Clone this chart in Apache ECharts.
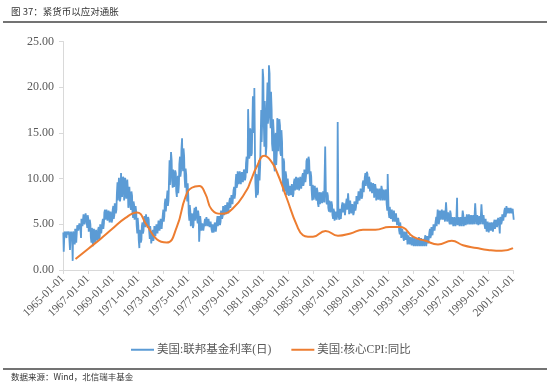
<!DOCTYPE html>
<html><head><meta charset="utf-8">
<script src="https://cdn.jsdelivr.net/npm/echarts@6/dist/echarts.min.js"></script>
<style>html,body{margin:0;padding:0;background:#fff}#c{width:550px;height:385px}</style>
</head><body><div id="c"></div>
<script>
// ---- data ----
const startYear = 1965;
const xTickLabels = ['1965-01-01','1967-01-01','1969-01-01','1971-01-01','1973-01-01','1975-01-01','1977-01-01','1979-01-01','1981-01-01','1983-01-01','1985-01-01','1987-01-01','1989-01-01','1991-01-01','1993-01-01','1995-01-01','1997-01-01','1999-01-01','2001-01-01'];
const seriesNames = ['美国:联邦基金利率(日)', '美国:核心CPI:同比'];

// Fed funds (daily) — monthly low / high of the daily band, 1965-01 .. 2001-01
const fedLow = [
 2.0,3.9,3.8,3.5,3.9,3.8,2.2,3.9,3.6,1.0,3.8,2.8, // 1965
 3.0,4.2,4.3,4.3,4.5,3.5,4.8,5.0,5.0,4.9,5.2,4.6, // 1966
 4.2,4.3,3.6,3.0,2.6,3.2,3.0,2.8,3.2,3.0,3.3,3.7, // 1967
 4.0,4.2,4.5,5.1,5.5,5.5,5.4,5.5,5.2,5.3,5.2,5.5, // 1968
 5.6,6.0,6.2,6.6,7.6,7.8,7.5,8.0,8.0,7.8,7.6,7.8, // 1969
 7.8,7.9,6.8,7.0,6.9,6.6,6.3,5.7,5.5,5.4,4.9,4.0, // 1970
 3.3,2.4,3.0,3.3,4.0,4.3,4.7,5.0,5.0,4.6,4.3,3.4, // 1971
 2.9,2.8,3.2,3.6,3.7,3.9,4.0,4.2,4.3,4.4,4.5,4.7, // 1972
 5.3,5.9,6.4,6.4,7.0,7.6,9.3,9.5,9.8,9.0,9.1,9.0, // 1973
 8.6,8.0,8.4,9.4,10.2,10.8,11.6,10.8,10.2,9.0,8.4,7.5, // 1974
 6.2,5.4,4.8,4.8,4.6,4.9,5.4,5.5,5.6,5.1,3.1,4.5, // 1975
 4.3,4.2,4.3,4.3,4.8,4.9,4.8,4.8,4.7,4.5,4.4,4.1, // 1976
 4.1,4.2,4.2,4.2,4.8,4.9,4.9,5.3,5.6,5.9,6.0,6.0, // 1977
 6.1,6.2,6.2,6.3,6.8,7.0,7.2,7.4,7.8,8.3,9.0,9.3, // 1978
 9.4,9.4,9.4,9.4,9.6,9.6,9.8,10.2,10.6,12.0,12.2,12.5, // 1979
 12.5,12.8,15.0,15.5,9.5,7.9,8.2,8.5,9.8,11.5,14.0,16.5, // 1980
 16.5,13.5,12.5,13.5,16.0,17.0,17.0,15.5,13.8,13.0,11.5,10.8, // 1981
 11.5,13.0,13.0,13.2,12.8,12.5,11.0,8.6,9.0,8.6,8.2,8.0, // 1982
 8.1,7.9,8.2,8.2,8.0,8.4,8.7,8.9,8.8,8.8,8.7,8.8, // 1983
 8.9,8.9,9.2,9.6,9.6,10.3,10.5,10.9,10.6,9.2,8.7,7.6, // 1984
 7.7,7.8,7.9,7.6,7.3,6.9,7.2,7.3,7.3,7.4,7.4,7.6, // 1985
 7.5,7.2,6.8,6.4,6.3,6.3,6.0,5.6,5.4,5.3,5.5,6.2, // 1986
 5.8,5.5,5.6,5.8,6.3,6.2,6.0,6.2,6.6,6.6,6.1,6.2, // 1987
 6.2,6.0,6.0,6.3,6.5,6.9,7.2,7.4,7.6,7.7,7.8,8.1, // 1988
 8.5,8.7,9.2,9.2,9.2,8.9,8.6,8.4,8.4,8.2,7.9,7.8, // 1989
 7.6,7.7,7.7,7.7,7.6,7.7,7.6,7.6,7.6,7.5,7.2,6.5, // 1990
 6.2,5.7,5.6,5.4,5.3,5.4,5.3,5.2,4.9,4.7,4.3,3.9, // 1991
 3.5,3.6,3.5,3.2,3.3,3.3,2.8,2.9,2.8,2.7,2.7,2.5, // 1992
 2.6,2.6,2.6,2.5,2.6,2.6,2.6,2.6,2.6,2.5,2.6,2.5, // 1993
 2.6,2.8,2.9,3.1,3.5,3.8,3.8,4.0,4.3,4.3,4.8,4.9, // 1994
 5.0,5.4,5.5,5.5,5.5,5.5,5.3,5.2,5.3,5.2,5.3,5.0, // 1995
 5.0,4.8,4.8,4.7,4.8,4.8,4.9,4.7,4.8,4.7,4.8,4.7, // 1996
 4.8,4.7,4.9,5.0,5.0,5.1,5.0,5.0,5.0,5.0,5.0,4.9, // 1997
 5.0,5.0,4.9,4.9,5.0,5.0,5.0,5.0,4.9,4.5,4.2,4.1, // 1998
 4.1,4.3,4.3,4.2,4.2,4.3,4.5,4.6,4.7,4.7,4.9,4.0, // 1999
 5.0,5.3,5.4,5.6,5.8,6.1,6.2,6.2,6.2,6.2,6.2,6.0, // 2000
 5.5 // 2001-01
];
const fedHigh = [
 4.1,4.2,4.2,4.2,4.2,4.2,4.2,4.2,4.2,4.2,4.3,4.5, // 1965
 4.7,4.9,5.0,5.1,5.3,5.6,5.8,6.1,6.3,6.2,6.3,6.0, // 1966
 5.6,5.5,5.0,4.6,4.3,4.5,4.3,4.4,4.5,4.4,4.7,5.0, // 1967
 5.1,5.2,5.6,6.3,6.6,6.6,6.5,6.5,6.2,6.4,6.3,6.6, // 1968
 7.0,7.3,7.5,8.3,9.6,10.1,10.0,10.6,10.4,10.2,9.9,10.1, // 1969
 10.0,9.9,8.7,9.1,8.9,8.6,8.1,7.5,7.1,7.0,6.3,5.7, // 1970
 4.8,4.4,4.4,4.8,5.2,5.5,5.9,6.1,6.1,5.8,5.5,4.8, // 1971
 4.1,3.9,4.4,4.8,4.8,5.0,5.1,5.4,5.4,5.6,5.6,5.9, // 1972
 6.6,7.3,7.8,7.9,8.7,9.5,12.0,12.9,12.0,11.0,11.0,10.9, // 1973
 10.6,9.9,10.3,11.6,12.4,13.2,14.4,13.3,12.4,11.1,10.4,9.5, // 1974
 8.0,7.1,6.3,6.2,5.9,6.2,6.8,6.9,6.9,6.5,5.9,5.9, // 1975
 5.2,5.1,5.2,5.1,5.6,5.8,5.6,5.6,5.5,5.3,5.2,5.0, // 1976
 5.1,5.2,5.2,5.3,5.9,5.9,5.9,6.5,6.7,7.0,7.0,7.1, // 1977
 7.3,7.4,7.4,7.5,7.9,8.2,8.4,8.7,9.1,9.6,10.5,10.8, // 1978
 10.8,10.8,10.8,10.7,10.9,11.0,11.2,11.7,12.4,17.6,14.5,15.5, // 1979
 15.0,15.5,19.0,19.9,12.5,10.5,10.0,10.6,12.0,14.0,17.5,22.0, // 1980
 21.0,18.5,16.5,18.0,20.5,22.4,21.5,19.5,17.5,16.5,15.0,14.5, // 1981
 15.0,16.6,16.3,16.5,15.8,15.3,14.0,12.2,11.8,10.8,10.3,10.0, // 1982
 9.3,9.2,9.4,9.4,9.2,9.6,10.0,10.2,10.1,10.1,10.0,10.2, // 1983
 10.2,10.3,10.6,11.0,11.1,11.9,12.2,12.4,12.0,10.8,10.2,9.3, // 1984
 9.0,9.2,9.3,9.0,8.6,8.2,8.5,8.5,8.6,8.6,8.7,13.5, // 1985
 8.8,8.5,8.1,7.6,7.4,7.5,7.1,6.7,6.4,6.4,6.6,16.2, // 1986
 7.0,6.7,6.7,7.0,7.4,7.3,7.1,7.3,7.8,8.4,7.3,7.6, // 1987
 7.4,7.2,7.2,7.5,7.7,8.1,8.3,8.6,8.8,8.9,9.0,9.5, // 1988
 9.8,10.1,10.6,10.75,10.5,10.2,9.9,9.6,9.7,9.5,9.2,9.4, // 1989
 8.9,8.9,9.0,8.9,8.8,9.2,8.8,8.8,8.9,8.8,8.5,10.5, // 1990
 7.8,6.9,6.7,6.6,6.4,6.5,6.3,6.2,6.0,5.7,5.3,5.2, // 1991
 4.6,4.5,4.4,4.2,4.3,4.2,3.7,3.8,3.7,3.6,3.5,3.6, // 1992
 3.5,3.5,3.6,3.4,3.5,3.6,3.5,3.5,3.6,3.4,3.5,3.8, // 1993
 3.5,3.7,3.8,4.1,4.5,4.7,4.8,5.0,5.2,5.3,5.8,6.6, // 1994
 6.1,6.5,6.5,6.6,6.5,6.5,6.4,7.4,6.3,6.3,6.3,6.5, // 1995
 6.1,5.8,5.8,5.8,5.8,5.8,7.9,5.8,5.9,5.8,5.9,6.5, // 1996
 6.0,5.8,5.9,6.1,6.0,6.1,6.0,6.0,6.1,6.0,6.1,7.3, // 1997
 6.0,6.0,6.0,5.9,6.0,7.2,6.0,6.0,6.1,5.6,5.4,5.3, // 1998
 5.1,5.2,5.3,5.2,5.2,5.2,5.5,5.5,5.7,5.7,5.9,5.8, // 1999
 5.9,6.1,6.3,6.5,6.8,7.0,6.9,6.8,6.8,6.8,6.8,6.7, // 2000
 6.5 // 2001-01
];

// Core CPI YoY (year, %)
const cpiYears = [1966.0,1967.0,1968.0,1968.9,1970.0,1970.9,1971.7,1972.5,1973.3,1974.1,1974.8,1975.3,1975.9,1976.4,1976.9,1977.7,1978.6,1979.7,1980.0,1980.5,1981.1,1981.6,1982.1,1982.9,1983.7,1984.2,1984.6,1985.0,1986.0,1987.0,1988.0,1989.0,1990.0,1991.1,1992.0,1993.0,1994.0,1995.0,1996.1,1997.0,1998.1,1999.0,2000.1,2001.0];
const cpiValues = [1.2,2.3,3.4,4.45,5.7,6.3,4.9,3.36,3.0,4.7,8.0,9.0,9.2,8.3,6.6,6.15,6.75,8.75,9.7,11.3,12.5,12.0,10.75,7.85,4.9,3.8,3.65,3.65,4.27,3.75,4.0,4.4,4.4,4.7,4.7,3.65,3.2,2.8,3.2,2.7,2.4,2.2,2.1,2.4];

// ---- build series ----
const fedData = [];
for (let i = 0; i < fedLow.length; i++) {
  const base = i / 12;
  if (i % 2 === 0) {
    fedData.push([base + 0.3 / 12, fedHigh[i]]);
    fedData.push([base + 0.7 / 12, fedLow[i]]);
  } else {
    fedData.push([base + 0.3 / 12, fedLow[i]]);
    fedData.push([base + 0.7 / 12, fedHigh[i]]);
  }
}
const cpiData = cpiYears.map((y, i) => [y - startYear, cpiValues[i]]);

const chart = echarts.init(document.getElementById('c'), null, {renderer: 'canvas'});
const labelFont = '"Liberation Serif", "Times New Roman", serif';
chart.setOption({
  animation: false,
  backgroundColor: '#ffffff',
  grid: {left: 63, top: 41.5, width: 450, height: 228.5, containLabel: false},
  xAxis: {
    type: 'value', min: 0, max: 36, interval: 2,
    axisLine: {lineStyle: {color: '#d9d9d9', width: 1}},
    axisTick: {show: true, length: 4, lineStyle: {color: '#d9d9d9'}},
    splitLine: {show: false},
    axisLabel: {
      rotate: 45, margin: 7, color: '#595959', fontSize: 11.5, fontFamily: labelFont,
      formatter: v => xTickLabels[Math.round(v / 2)] || ''
    }
  },
  yAxis: {
    type: 'value', min: 0, max: 25, interval: 5,
    axisLine: {show: true, lineStyle: {color: '#d9d9d9', width: 1}},
    axisTick: {show: true, length: 4, lineStyle: {color: '#d9d9d9'}},
    splitLine: {show: false},
    axisLabel: {margin: 9, color: '#595959', fontSize: 12, fontFamily: labelFont,
      formatter: v => v.toFixed(2)}
  },
  legend: {
    left: 126, top: 339,
    itemWidth: 23, itemHeight: 2, itemGap: 20, icon: 'rect',
    textStyle: {color: '#595959', fontSize: 11.5, fontFamily: '"Liberation Serif", "Noto Sans CJK SC", serif', padding: [0,0,0,-2]},
    data: seriesNames
  },
  series: [
    {name: seriesNames[0], type: 'line', data: fedData, showSymbol: false, symbol: 'none',
     lineStyle: {color: '#5B9BD5', width: 1.8}, itemStyle: {color: '#5B9BD5'}, z: 2},
    {name: seriesNames[1], type: 'line', data: cpiData, showSymbol: false, symbol: 'none', smooth: 0.5,
     lineStyle: {color: '#ED7D31', width: 2}, itemStyle: {color: '#ED7D31'}, z: 3}
  ],
  graphic: [
    {type: 'text', left: 11, top: 7, style: {text: '图 37：紧货币以应对通胀', fill: '#333', font: '9.5px "Noto Sans CJK SC", sans-serif'}},
    {type: 'line', shape: {x1: 3, y1: 22, x2: 547, y2: 22}, style: {stroke: '#444', lineWidth: 1.5}},
    {type: 'line', shape: {x1: 3, y1: 369, x2: 547, y2: 369}, style: {stroke: '#444', lineWidth: 1.5}},
    {type: 'text', left: 11, top: 373, style: {text: '数据来源：Wind，北信瑞丰基金', fill: '#333', font: '8.5px "Noto Sans CJK SC", sans-serif'}}
  ]
});
</script>
</body></html>
